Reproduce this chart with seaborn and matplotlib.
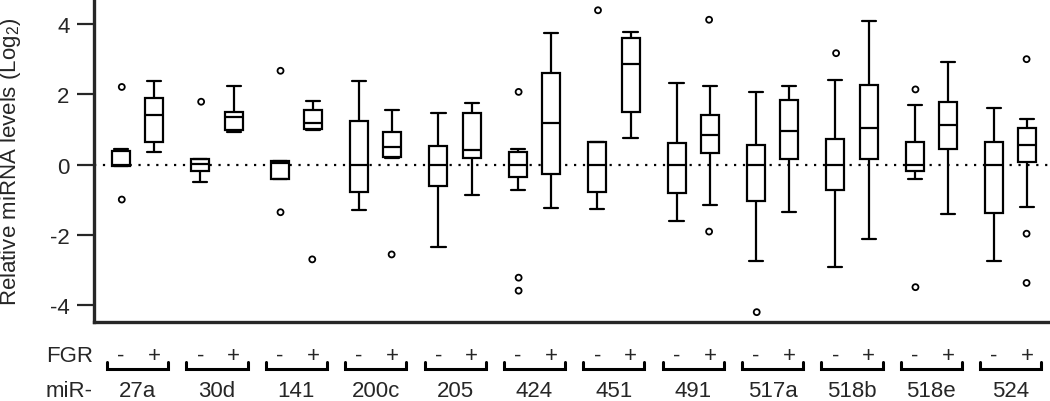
import matplotlib
matplotlib.use("Agg")
import matplotlib.pyplot as plt
import seaborn as sns
import pandas as pd

mirs = ["27a", "30d", "141", "200c", "205", "424", "451", "491", "517a", "518b", "518e", "524"]
fgr_levels = ["-", "+"]

# FGR - (five number summary per miRNA)
neg_low = [-0.05, -0.48, -0.41, -1.30, -2.34, -0.71, -1.25, -1.59, -2.73, -2.90, -0.41, -2.74]
neg_q1 = [-0.05, -0.19, -0.41, -0.77, -0.60, -0.36, -0.78, -0.80, -1.03, -0.71, -0.19, -1.37]
neg_med = [0.00, 0.03, 0.05, 0.00, 0.00, 0.00, 0.00, 0.00, 0.00, 0.00, 0.00, 0.00]
neg_q3 = [0.38, 0.16, 0.10, 1.25, 0.54, 0.35, 0.64, 0.63, 0.57, 0.73, 0.65, 0.64]
neg_high = [0.45, 0.16, 0.12, 2.37, 1.46, 0.45, 0.66, 2.32, 2.06, 2.41, 1.69, 1.61]
neg_out = [[2.21, -0.99], [1.79], [2.67, -1.35], [], [], [2.07, -3.21, -3.58],
           [4.39], [], [-4.19], [3.17], [2.14, -3.48], []]

# FGR +
pos_low = [0.37, 0.94, 0.98, 0.19, -0.87, -1.22, 0.75, -1.14, -1.35, -2.11, -1.41, -1.19]
pos_q1 = [0.64, 0.99, 1.01, 0.21, 0.20, -0.26, 1.51, 0.32, 0.15, 0.16, 0.45, 0.09]
pos_med = [1.41, 1.35, 1.20, 0.51, 0.43, 1.18, 2.85, 0.84, 0.95, 1.03, 1.13, 0.56]
pos_q3 = [1.89, 1.51, 1.55, 0.92, 1.46, 2.62, 3.59, 1.41, 1.85, 2.26, 1.77, 1.04]
pos_high = [2.37, 2.23, 1.81, 1.56, 1.75, 3.73, 3.76, 2.23, 2.23, 4.09, 2.93, 1.31]
pos_out = [[], [], [-2.69], [-2.55], [], [], [], [4.12, -1.90], [], [], [], [3.00, -1.96, -3.36]]

summary = {
    "-": [neg_low, neg_q1, neg_med, neg_q3, neg_high],
    "+": [pos_low, pos_q1, pos_med, pos_q3, pos_high],
}
outliers = {"-": neg_out, "+": pos_out}

rows = []
for lvl in fgr_levels:
    for stat in summary[lvl]:
        for m, v in zip(mirs, stat):
            rows.append({"miR": m, "FGR": lvl, "value": v})
box_df = pd.DataFrame(rows)

orows = []
for lvl in fgr_levels:
    for m, vals in zip(mirs, outliers[lvl]):
        for v in vals:
            orows.append({"miR": m, "FGR": lvl, "value": v})
out_df = pd.DataFrame(orows)

sns.set_style("ticks")
plt.rcParams["font.family"] = ["Liberation Sans", "DejaVu Sans"]
plt.rcParams["axes.unicode_minus"] = False

fig = plt.figure(figsize=(10.5, 4.02), dpi=100)
ax = fig.add_axes([94 / 1050, 79 / 402, 954 / 1050, 323 / 402])

ax.axhline(0, color="black", lw=1.6, ls=(0, (1, 3)), zorder=0.5)

sns.boxplot(
    data=box_df, x="miR", y="value", hue="FGR",
    order=mirs, hue_order=fgr_levels,
    palette={"-": "white", "+": "white"}, linecolor="black",
    width=0.84, gap=0.46, whis=(0, 100), linewidth=1.6,
    capwidths=0.178, legend=False, ax=ax,
)

sns.stripplot(
    data=out_df, x="miR", y="value", hue="FGR",
    order=mirs, hue_order=fgr_levels,
    palette={"-": "black", "+": "black"},
    dodge=True, jitter=False, size=4.3, linewidth=1.3,
    edgecolor="black", legend=False, ax=ax, zorder=3,
)
for coll in ax.collections:
    coll.set_facecolor("none")
    coll.set_edgecolor("black")

ax.set_xlim(-0.55, 11.47)
ax.set_ylim(-4.47, 4.71)
ax.set_yticks([-4, -2, 0, 2, 4])
ax.set_xticks([])
ax.set_xlabel("")
ax.set_ylabel("Relative miRNA levels (Log$_\\mathregular{2}$)", fontsize=16)
ax.yaxis.set_label_coords(-0.0744, 0.5)
ax.tick_params(axis="y", length=12.5, width=1.6, labelsize=16, pad=5)
sns.despine(ax=ax)
for s in ["left", "bottom"]:
    ax.spines[s].set_linewidth(2.4)

# FGR / miR- rows beneath the axis
tr = ax.get_xaxis_transform()
ax.text(-0.0506, -0.1207, "FGR", transform=ax.transAxes, fontsize=16, ha="left", va="baseline")
ax.text(-0.0506, -0.229, "miR-", transform=ax.transAxes, fontsize=16, ha="left", va="baseline")
for i, m in enumerate(mirs):
    ax.text(i - 0.21, -0.1207, "-", transform=tr, fontsize=16, ha="center", va="baseline")
    ax.text(i + 0.21, -0.1207, "+", transform=tr, fontsize=16, ha="center", va="baseline")
    ax.plot([i - 0.385, i - 0.385, i + 0.385, i + 0.385], [-0.125, -0.145, -0.145, -0.125],
            transform=tr, color="black", lw=2.2, clip_on=False, solid_joinstyle="miter")
    ax.text(i, -0.229, m, transform=tr, fontsize=16, ha="center", va="baseline")

fig.savefig("out.png", dpi=100)
